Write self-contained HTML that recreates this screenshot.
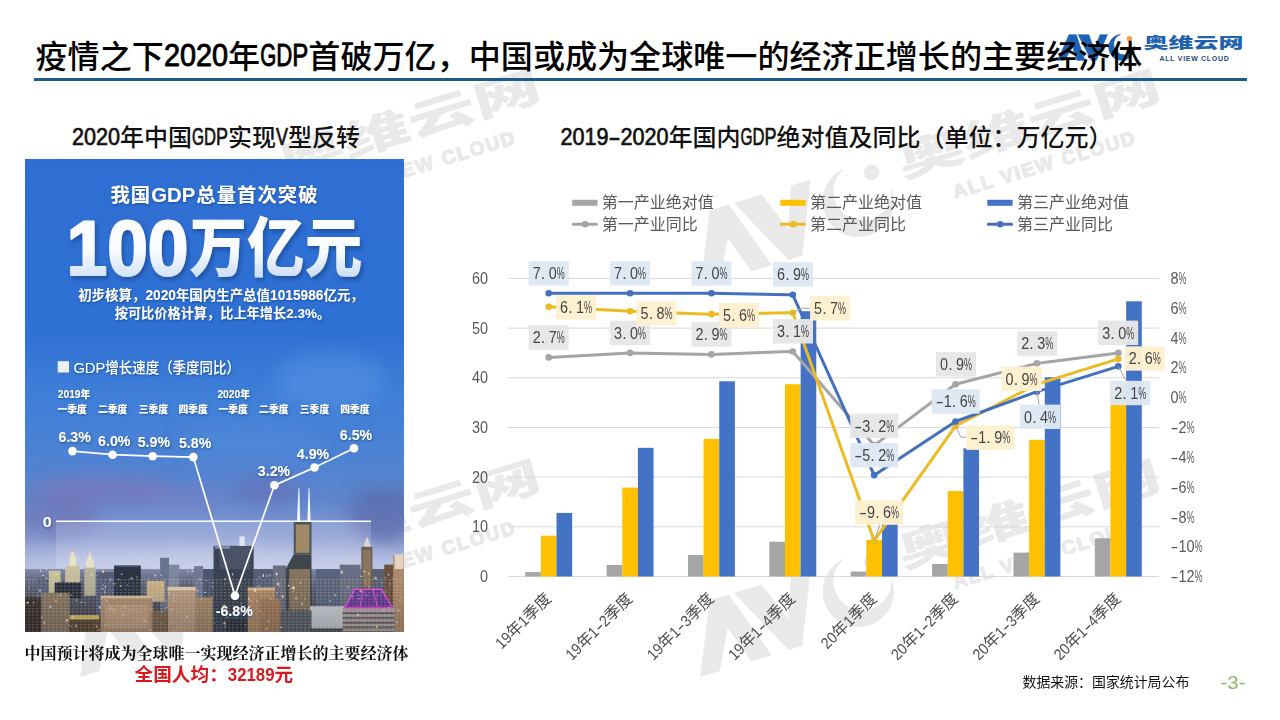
<!DOCTYPE html>
<html lang="zh-CN">
<head>
<meta charset="utf-8">
<title>疫情之下2020年GDP首破万亿</title>
<style>
html,body{margin:0;padding:0;background:#fff;}
body{width:1280px;height:720px;overflow:hidden;font-family:"Liberation Sans","Noto Sans CJK SC",sans-serif;}
svg{display:block}
svg text{font-family:"Liberation Sans","Noto Sans CJK SC",sans-serif;}
</style>
</head>
<body>
<svg width="1280" height="720" viewBox="0 0 1280 720">
<g id="watermarks" opacity="1">
<g transform="translate(0,0)"><g transform="translate(857.8,201.4) rotate(-17) scale(2.75) translate(-1121.5,-47.3)"><path d="M1057.6,60.3 L1069,34.7 L1076.3,34.7 L1084.8,60.3 L1077,60.3 L1072.4,46.2 L1065,60.3 Z M1078.2,34.7 L1088.8,34.7 L1094.3,49.5 L1100,34.7 L1107.4,34.7 L1096.4,60.3 L1091.2,60.3 Z M1120.5,34.4 A13,13 0 1 0 1134.6,46 A10.55,10.55 0 1 1 1120.5,34.4 Z" fill="#e9e9e9"/><circle cx="1129.4" cy="38.7" r="2.8" fill="#e9e9e9"/></g><g transform="translate(955,198.75) rotate(-17) scale(2.735) translate(-1159.6,-60.8)"><g fill="#e9e9e9">
<text x="1143.4" y="48.1" font-size="15.2" font-weight="900" textLength="100" lengthAdjust="spacingAndGlyphs">奥维云网</text>
</g><text x="1159.6" y="60.8" font-family="Liberation Sans" font-weight="bold" font-size="7" textLength="69.2" fill="#e9e9e9" stroke="#e9e9e9" stroke-width="0.45" style="white-space:pre">ALL VIEW CLOUD</text></g></g>
<g transform="translate(0,390)"><g transform="translate(857.8,201.4) rotate(-17) scale(2.75) translate(-1121.5,-47.3)"><path d="M1057.6,60.3 L1069,34.7 L1076.3,34.7 L1084.8,60.3 L1077,60.3 L1072.4,46.2 L1065,60.3 Z M1078.2,34.7 L1088.8,34.7 L1094.3,49.5 L1100,34.7 L1107.4,34.7 L1096.4,60.3 L1091.2,60.3 Z M1120.5,34.4 A13,13 0 1 0 1134.6,46 A10.55,10.55 0 1 1 1120.5,34.4 Z" fill="#e9e9e9"/><circle cx="1129.4" cy="38.7" r="2.8" fill="#e9e9e9"/></g><g transform="translate(955,198.75) rotate(-17) scale(2.735) translate(-1159.6,-60.8)"><g fill="#e9e9e9">
<text x="1143.4" y="48.1" font-size="15.2" font-weight="900" textLength="100" lengthAdjust="spacingAndGlyphs">奥维云网</text>
</g><text x="1159.6" y="60.8" font-family="Liberation Sans" font-weight="bold" font-size="7" textLength="69.2" fill="#e9e9e9" stroke="#e9e9e9" stroke-width="0.45" style="white-space:pre">ALL VIEW CLOUD</text></g></g>
<g transform="translate(-620,0)"><g transform="translate(857.8,201.4) rotate(-17) scale(2.75) translate(-1121.5,-47.3)"><path d="M1057.6,60.3 L1069,34.7 L1076.3,34.7 L1084.8,60.3 L1077,60.3 L1072.4,46.2 L1065,60.3 Z M1078.2,34.7 L1088.8,34.7 L1094.3,49.5 L1100,34.7 L1107.4,34.7 L1096.4,60.3 L1091.2,60.3 Z M1120.5,34.4 A13,13 0 1 0 1134.6,46 A10.55,10.55 0 1 1 1120.5,34.4 Z" fill="#e9e9e9"/><circle cx="1129.4" cy="38.7" r="2.8" fill="#e9e9e9"/></g><g transform="translate(955,198.75) rotate(-17) scale(2.735) translate(-1159.6,-60.8)"><g fill="#e9e9e9">
<text x="1143.4" y="48.1" font-size="15.2" font-weight="900" textLength="100" lengthAdjust="spacingAndGlyphs">奥维云网</text>
</g><text x="1159.6" y="60.8" font-family="Liberation Sans" font-weight="bold" font-size="7" textLength="69.2" fill="#e9e9e9" stroke="#e9e9e9" stroke-width="0.45" style="white-space:pre">ALL VIEW CLOUD</text></g></g>
<g transform="translate(-620,390)"><g transform="translate(857.8,201.4) rotate(-17) scale(2.75) translate(-1121.5,-47.3)"><path d="M1057.6,60.3 L1069,34.7 L1076.3,34.7 L1084.8,60.3 L1077,60.3 L1072.4,46.2 L1065,60.3 Z M1078.2,34.7 L1088.8,34.7 L1094.3,49.5 L1100,34.7 L1107.4,34.7 L1096.4,60.3 L1091.2,60.3 Z M1120.5,34.4 A13,13 0 1 0 1134.6,46 A10.55,10.55 0 1 1 1120.5,34.4 Z" fill="#e9e9e9"/><circle cx="1129.4" cy="38.7" r="2.8" fill="#e9e9e9"/></g><g transform="translate(955,198.75) rotate(-17) scale(2.735) translate(-1159.6,-60.8)"><g fill="#e9e9e9">
<text x="1143.4" y="48.1" font-size="15.2" font-weight="900" textLength="100" lengthAdjust="spacingAndGlyphs">奥维云网</text>
</g><text x="1159.6" y="60.8" font-family="Liberation Sans" font-weight="bold" font-size="7" textLength="69.2" fill="#e9e9e9" stroke="#e9e9e9" stroke-width="0.45" style="white-space:pre">ALL VIEW CLOUD</text></g></g>
</g>
<g id="logo"><path d="M1057.6,60.3 L1069,34.7 L1076.3,34.7 L1084.8,60.3 L1077,60.3 L1072.4,46.2 L1065,60.3 Z M1078.2,34.7 L1088.8,34.7 L1094.3,49.5 L1100,34.7 L1107.4,34.7 L1096.4,60.3 L1091.2,60.3 Z M1120.5,34.4 A13,13 0 1 0 1134.6,46 A10.55,10.55 0 1 1 1120.5,34.4 Z" fill="#1c62b4" stroke="#1c62b4" stroke-width="0.6" stroke-linejoin="miter"/><circle cx="1129.4" cy="38.7" r="2.8" fill="#f4a24a"/><g fill="#1f62ae">
<text x="1143.4" y="48.1" font-size="15.2" font-weight="900" textLength="100" lengthAdjust="spacingAndGlyphs">奥维云网</text>
</g><text x="1159.6" y="60.8" font-family="Liberation Sans" font-weight="bold" font-size="7" textLength="69.2" fill="#2a4a78" style="white-space:pre">ALL VIEW CLOUD</text></g>
<g fill="#000">
<text font-size="32.1" font-weight="500"><tspan x="35.5" y="67.6">疫情之下</tspan><tspan x="228.1" y="67.6">年</tspan><tspan x="308.35" y="67.6">首破万亿，中国或成为全球唯一的经济正增长的主要经济体</tspan></text>
<text font-family="Liberation Sans" font-weight="normal" font-size="32.1" stroke="#000" stroke-width="0.9" stroke-linejoin="round"><tspan x="163.9" y="66.48" textLength="64.2" lengthAdjust="spacingAndGlyphs">2020</tspan></text>
<text font-family="Liberation Sans" font-weight="normal" font-size="32.1" stroke="#000" stroke-width="0.9" stroke-linejoin="round"><tspan x="260.2" y="66.48" textLength="16.05" lengthAdjust="spacingAndGlyphs">G</tspan><tspan x="276.25" y="66.48" textLength="16.05" lengthAdjust="spacingAndGlyphs">D</tspan><tspan x="292.3" y="66.48" textLength="16.05" lengthAdjust="spacingAndGlyphs">P</tspan></text>
</g>
<rect x="34" y="78" width="1213" height="3" fill="#1d5a8e"/>
<g fill="#111">
<text font-size="24" font-weight="500"><tspan x="120" y="146.2">年中国</tspan><tspan x="228" y="146.2">实现</tspan><tspan x="288" y="146.2">型反转</tspan></text>
<text font-family="Liberation Sans" font-weight="normal" font-size="24" stroke="#111" stroke-width="0.7" stroke-linejoin="round"><tspan x="72" y="145.36" textLength="48" lengthAdjust="spacingAndGlyphs">2020</tspan></text>
<text font-family="Liberation Sans" font-weight="normal" font-size="24" stroke="#111" stroke-width="0.7" stroke-linejoin="round"><tspan x="192" y="145.36" textLength="12" lengthAdjust="spacingAndGlyphs">G</tspan><tspan x="204" y="145.36" textLength="12" lengthAdjust="spacingAndGlyphs">D</tspan><tspan x="216" y="145.36" textLength="12" lengthAdjust="spacingAndGlyphs">P</tspan></text>
<text font-family="Liberation Sans" font-weight="normal" font-size="24" stroke="#111" stroke-width="0.7" stroke-linejoin="round"><tspan x="276" y="145.36" textLength="12" lengthAdjust="spacingAndGlyphs">V</tspan></text>
</g>
<g fill="#111">
<text font-size="24" font-weight="500"><tspan x="668.5" y="146.2">年国内</tspan><tspan x="776.5" y="146.2">绝对值及同比（单位：万亿元）</tspan></text>
<text font-family="Liberation Sans" font-weight="normal" font-size="24" stroke="#111" stroke-width="0.7" stroke-linejoin="round"><tspan x="560.5" y="145.36" textLength="48" lengthAdjust="spacingAndGlyphs">2019</tspan><tspan x="608.5" y="145.36" textLength="12" lengthAdjust="spacingAndGlyphs">-</tspan><tspan x="620.5" y="145.36" textLength="48" lengthAdjust="spacingAndGlyphs">2020</tspan></text>
<text font-family="Liberation Sans" font-weight="normal" font-size="24" stroke="#111" stroke-width="0.7" stroke-linejoin="round"><tspan x="740.5" y="145.36" textLength="12" lengthAdjust="spacingAndGlyphs">G</tspan><tspan x="752.5" y="145.36" textLength="12" lengthAdjust="spacingAndGlyphs">D</tspan><tspan x="764.5" y="145.36" textLength="12" lengthAdjust="spacingAndGlyphs">P</tspan></text>
</g>
<defs>
<clipPath id="igclip"><rect x="25" y="159" width="379" height="473"/></clipPath>
<linearGradient id="sky" x1="0" y1="0" x2="0" y2="1">
<stop offset="0" stop-color="#2f6fd3"/><stop offset=".36" stop-color="#2f70d4"/><stop offset=".5" stop-color="#3f7fd8"/>
<stop offset=".62" stop-color="#4c82d4"/><stop offset=".72" stop-color="#5f86cc"/><stop offset=".80" stop-color="#8a9cd2"/>
<stop offset=".865" stop-color="#b4bee0"/><stop offset=".9" stop-color="#8f97b4"/><stop offset="1" stop-color="#3c3c48"/>
</linearGradient>
<linearGradient id="cityband" x1="0" y1="0" x2="0" y2="1">
<stop offset="0" stop-color="#7f89a8"/><stop offset=".25" stop-color="#5a6078"/><stop offset="1" stop-color="#3a3638"/>
</linearGradient>
<linearGradient id="bigtxt" x1="0" y1="0" x2="0" y2="1">
<stop offset="0" stop-color="#ffffff"/><stop offset=".55" stop-color="#f7faff"/><stop offset="1" stop-color="#bcd3f3"/>
</linearGradient>
<pattern id="win" width="4" height="3.2" patternUnits="userSpaceOnUse">
<rect x="0" y="0" width="2.4" height="1.1" fill="#ffe7b4"/>
</pattern>
<linearGradient id="dk" x1="0" y1="0" x2="0" y2="1"><stop offset="0" stop-color="#1a1c28" stop-opacity="0"/><stop offset="1" stop-color="#14141c" stop-opacity=".26"/></linearGradient>
<filter id="blur8" x="-30%" y="-30%" width="160%" height="160%"><feGaussianBlur stdDeviation="9"/></filter>
<filter id="blur3" x="-30%" y="-30%" width="160%" height="160%"><feGaussianBlur stdDeviation="3"/></filter>
<filter id="sh1" x="-10%" y="-20%" width="120%" height="150%"><feDropShadow dx="0.6" dy="1" stdDeviation="1.1" flood-color="#123a7c" flood-opacity=".7"/></filter>
<filter id="sh2" x="-10%" y="-20%" width="120%" height="150%"><feDropShadow dx="2" dy="3" stdDeviation="2.2" flood-color="#123a80" flood-opacity=".6"/></filter>
</defs>
<g id="infographic">
<rect x="25" y="159" width="379" height="473" fill="url(#sky)"/>
<g clip-path="url(#igclip)"><g filter="url(#blur8)">
<ellipse cx="100" cy="490" rx="70" ry="13" fill="#9070b0" opacity=".5"/>
<ellipse cx="55" cy="518" rx="45" ry="20" fill="#6a68aa" opacity=".45"/>
<ellipse cx="185" cy="498" rx="45" ry="9" fill="#9a78b4" opacity=".35"/>
<ellipse cx="268" cy="490" rx="34" ry="14" fill="#6f68ae" opacity=".5"/>
<ellipse cx="383" cy="515" rx="34" ry="28" fill="#5561a2" opacity=".6"/>
<ellipse cx="330" cy="380" rx="55" ry="28" fill="#5f9ae6" opacity=".45"/>
<ellipse cx="250" cy="440" rx="70" ry="20" fill="#5a90dc" opacity=".35"/>
<ellipse cx="215" cy="563" rx="200" ry="12" fill="#c8d0ea" opacity=".55"/>
</g></g>
<rect x="56" y="521" width="315" height="111" fill="#fff" opacity=".16"/>
<g id="city" clip-path="url(#igclip)"><rect x="25" y="569.07" width="380.05" height="70.96" fill="url(#cityband)"/>
<rect x="36.88" y="577.98" width="23.75" height="62.05" fill="#5a6480"/>
<rect x="96.26" y="572.04" width="17.81" height="67.99" fill="#55607c"/>
<rect x="160.1" y="557.79" width="8.91" height="82.24" fill="#6a7390"/>
<rect x="169" y="564.62" width="10.39" height="75.42" fill="#8088a0"/>
<rect x="194.24" y="566.1" width="8.91" height="73.93" fill="#707a96"/>
<rect x="203.15" y="569.07" width="11.88" height="70.96" fill="#4c5670"/>
<rect x="253.62" y="569.07" width="19.3" height="70.96" fill="#566079"/>
<rect x="272.92" y="565.51" width="13.36" height="74.52" fill="#6b6f80"/>
<rect x="315.97" y="569.07" width="23.75" height="70.96" fill="#5a6580"/>
<rect x="339.73" y="564.62" width="20.78" height="75.42" fill="#6a7088"/>
<rect x="372.39" y="569.07" width="13.36" height="70.96" fill="#5a5f72"/>
<polygon points="69.54,569.07 69.54,557.79 71.32,552.74 72.51,551.26 73.69,552.74 76.07,557.79 76.07,569.07" fill="#e9e2c6"/>
<rect x="65.08" y="566.1" width="14.85" height="32.66" fill="#c9c0a0"/>
<polygon points="85.87,569.07 85.87,560.76 88.54,556.6 89.73,550.67 90.91,556.6 93.88,560.76 93.88,569.07" fill="#e6e0cc"/>
<rect x="84.38" y="567.59" width="11.28" height="28.21" fill="#b9b49e"/>
<rect x="48.75" y="570.56" width="11.88" height="22.27" fill="#c8c49a"/>
<rect x="114.07" y="565.51" width="26.72" height="33.25" fill="#2c3444"/>
<rect x="114.07" y="565.51" width="26.72" height="1.19" fill="#55607a"/>
<rect x="146.73" y="580.95" width="17.81" height="20.78" fill="#cbb58c"/>
<rect x="54.69" y="582.43" width="26.72" height="16.33" fill="#2a3040"/>
<rect x="25" y="597.28" width="17.81" height="42.76" fill="#3a3230"/>
<rect x="41.33" y="592.83" width="28.21" height="47.21" fill="#8d7a68"/>
<rect x="69.54" y="615.1" width="31.18" height="24.94" fill="#5c4a34"/>
<rect x="69.54" y="615.1" width="29.69" height="4.45" fill="#d9c46a"/>
<rect x="100.71" y="595.8" width="51.96" height="44.24" fill="#b39378"/>
<rect x="100.71" y="595.8" width="51.96" height="2.38" fill="#e0c8a4"/>
<rect x="105.17" y="604.7" width="43.05" height="23.75" fill="#c4a283"/>
<rect x="167.52" y="588.37" width="28.21" height="51.66" fill="#bc9e84"/>
<rect x="167.52" y="586.89" width="28.21" height="3.56" fill="#e6d2b2"/>
<rect x="195.72" y="597.28" width="16.92" height="42.76" fill="#a98a6c"/>
<rect x="152.67" y="610.64" width="15.44" height="29.39" fill="#7c6650"/>
<rect x="213.54" y="545.91" width="40.08" height="94.12" fill="#3b4354"/>
<rect x="219.48" y="545.91" width="31.18" height="23.16" fill="#4a5266"/>
<rect x="215.02" y="545.91" width="14.85" height="2.97" fill="#7e88a8"/>
<rect x="239.37" y="536.41" width="5.34" height="9.5" fill="#dfe6f2"/>
<rect x="226.9" y="619.55" width="23.75" height="20.49" fill="#2e3440"/>
<rect x="247.68" y="588.37" width="27.32" height="51.66" fill="#b28a68"/>
<rect x="247.68" y="587.48" width="27.32" height="2.97" fill="#d9b78f"/>
<rect x="259.56" y="598.76" width="20.78" height="41.27" fill="#a37c5c"/>
<polygon points="296.97,521.57 298.46,488.31 299.35,488.31 300.24,521.57" fill="#f3f6fb"/>
<polygon points="307.36,521.57 308.55,488.31 309.44,488.31 310.63,521.57" fill="#f3f6fb"/>
<rect x="293.71" y="521.57" width="17.81" height="32.66" fill="#4c5558"/>
<rect x="295.78" y="524.54" width="13.66" height="28.21" fill="#a08a68"/>
<polygon points="293.71,554.23 311.52,554.23 311.52,612.13 285.69,612.13 285.69,569.07" fill="#3e474c"/>
<rect x="289.25" y="569.07" width="20.78" height="41.57" fill="#857560"/>
<rect x="310.04" y="606.19" width="34.14" height="23.75" fill="#cdd3dc"/>
<rect x="280.34" y="610.64" width="31.18" height="29.39" fill="#59606a"/>
<rect x="310.04" y="628.46" width="34.14" height="11.58" fill="#4a4e58"/>
<polygon points="363.48,546.81 366.45,537.9 367.04,536.41 367.64,537.9 370.9,546.81" fill="#d8d4d0"/>
<rect x="361.4" y="546.81" width="10.99" height="41.57" fill="#6b5c52"/>
<rect x="362.89" y="549.77" width="8.02" height="37.11" fill="#8a7660"/>
<rect x="384.26" y="564.62" width="10.39" height="75.42" fill="#6a5240"/>
<rect x="393.17" y="555.71" width="11.88" height="84.32" fill="#b08c6c"/>
<rect x="394.66" y="554.23" width="8.91" height="14.85" fill="#e0d4c0"/>
<rect x="342.7" y="607.67" width="51.96" height="32.36" fill="#b4acac"/>
<rect x="342.7" y="612.13" width="51.96" height="2.08" fill="#6c6468"/>
<rect x="342.7" y="616.88" width="51.96" height="2.08" fill="#6c6468"/>
<rect x="342.7" y="621.63" width="51.96" height="2.08" fill="#6c6468"/>
<rect x="342.7" y="626.38" width="51.96" height="2.08" fill="#6c6468"/>
<rect x="342.7" y="631.13" width="51.96" height="2.08" fill="#6c6468"/>
<rect x="342.7" y="635.88" width="51.96" height="2.08" fill="#6c6468"/>
<polygon points="354.57,589.26 381.29,589.26 392.58,607.67 345.07,607.67" fill="#6a3c9c"/>
<polygon points="354.57,589.26 381.29,589.26 392.58,607.67 345.07,607.67" fill="none" stroke="#e24be0" stroke-width="1.6"/>
<line x1="363.48" y1="589.26" x2="359.92" y2="607.67" stroke="#e24be0" stroke-width="1.2"/>
<line x1="372.98" y1="589.26" x2="377.73" y2="607.67" stroke="#e24be0" stroke-width="1.2"/>
<rect x="25" y="577.98" width="379" height="54.02" fill="url(#win)" opacity=".30"/>
<rect x="147.76" y="578.26" width="1" height="1" fill="#fbe9c8" opacity="0.5"/>
<rect x="245.13" y="624.5" width="1.2" height="1" fill="#fff3c4" opacity="0.67"/>
<rect x="52.27" y="574.6" width="2.2" height="1" fill="#fbe9c8" opacity="0.51"/>
<rect x="109.94" y="607.3" width="1" height="2.6" fill="#fff3c4" opacity="0.94"/>
<rect x="43.52" y="621.38" width="1.6" height="2.6" fill="#ffe39a" opacity="0.72"/>
<rect x="240.66" y="603.21" width="1.2" height="1" fill="#fbe9c8" opacity="0.74"/>
<rect x="96.64" y="575.01" width="1" height="1" fill="#fbe9c8" opacity="0.55"/>
<rect x="281.83" y="595.13" width="1.6" height="2.6" fill="#fbe9c8" opacity="0.91"/>
<rect x="161.95" y="584.21" width="1.2" height="1.2" fill="#fff3c4" opacity="0.74"/>
<rect x="223.47" y="622.39" width="2.2" height="1.8" fill="#fbe9c8" opacity="0.94"/>
<rect x="70.39" y="594.55" width="1.6" height="1.2" fill="#ffd27a" opacity="0.66"/>
<rect x="387.72" y="573.8" width="1.6" height="1.8" fill="#dfe9ff" opacity="0.63"/>
<rect x="212.75" y="617.63" width="1" height="1" fill="#ffffff" opacity="0.69"/>
<rect x="275.72" y="572.77" width="1.6" height="2.6" fill="#ffffff" opacity="0.81"/>
<rect x="359.53" y="590.22" width="2.2" height="1.8" fill="#ffe39a" opacity="0.76"/>
<rect x="211.63" y="582.37" width="1.6" height="1.2" fill="#dfe9ff" opacity="0.57"/>
<rect x="173" y="622.17" width="1" height="1.2" fill="#ffd27a" opacity="0.65"/>
<rect x="130.47" y="577.42" width="2.2" height="1.8" fill="#dfe9ff" opacity="0.66"/>
<rect x="160.9" y="622.94" width="1.2" height="1.2" fill="#fff3c4" opacity="0.54"/>
<rect x="113.22" y="583.29" width="2.2" height="1.2" fill="#ffffff" opacity="0.59"/>
<rect x="80.77" y="601.64" width="1.6" height="1.2" fill="#dfe9ff" opacity="0.88"/>
<rect x="383.28" y="608.98" width="1" height="2.6" fill="#dfe9ff" opacity="0.85"/>
<rect x="173.53" y="593.38" width="1" height="2.6" fill="#dfe9ff" opacity="0.65"/>
<rect x="97.67" y="629.07" width="2.2" height="1.2" fill="#fff3c4" opacity="0.62"/>
<rect x="45.77" y="569.09" width="1.2" height="1" fill="#ffffff" opacity="0.76"/>
<rect x="52.44" y="581.74" width="2.2" height="1.2" fill="#dfe9ff" opacity="0.58"/>
<rect x="156.62" y="591.26" width="1" height="1" fill="#ffd27a" opacity="0.95"/>
<rect x="201.21" y="598.55" width="1" height="1.2" fill="#fff3c4" opacity="0.82"/>
<rect x="304.37" y="598.23" width="1.2" height="1" fill="#ffe39a" opacity="0.93"/>
<rect x="224.62" y="578.01" width="1" height="1.8" fill="#dfe9ff" opacity="0.88"/>
<rect x="287.77" y="584.98" width="1.6" height="1.2" fill="#ffffff" opacity="0.84"/>
<rect x="226.25" y="616.54" width="1.6" height="1.2" fill="#fbe9c8" opacity="0.86"/>
<rect x="396.33" y="621.02" width="1.2" height="2.6" fill="#dfe9ff" opacity="0.85"/>
<rect x="101.17" y="599.1" width="1" height="1" fill="#ffffff" opacity="0.69"/>
<rect x="98.81" y="605.94" width="1.6" height="2.6" fill="#dfe9ff" opacity="0.94"/>
<rect x="385.08" y="591.29" width="1.2" height="1" fill="#ffe39a" opacity="0.69"/>
<rect x="152.99" y="598.48" width="1" height="2.6" fill="#dfe9ff" opacity="0.62"/>
<rect x="267.82" y="619.93" width="1" height="2.6" fill="#dfe9ff" opacity="0.83"/>
<rect x="205.74" y="579.95" width="1.6" height="1" fill="#dfe9ff" opacity="0.65"/>
<rect x="176.92" y="626.76" width="1.2" height="1.2" fill="#ffe39a" opacity="0.46"/>
<rect x="248.15" y="597.43" width="1.2" height="2.6" fill="#dfe9ff" opacity="0.92"/>
<rect x="84.62" y="602.48" width="1" height="1" fill="#dfe9ff" opacity="0.77"/>
<rect x="223.99" y="625.96" width="2.2" height="1.2" fill="#ffe39a" opacity="0.46"/>
<rect x="106.01" y="599.61" width="1.6" height="1.8" fill="#fbe9c8" opacity="0.66"/>
<rect x="75.28" y="624.52" width="1.6" height="2.6" fill="#dfe9ff" opacity="0.74"/>
<rect x="366.02" y="594.7" width="1.2" height="1.2" fill="#fbe9c8" opacity="0.71"/>
<rect x="354.17" y="616.38" width="1" height="1.2" fill="#ffe39a" opacity="0.52"/>
<rect x="258.78" y="576.41" width="1" height="1.8" fill="#dfe9ff" opacity="0.71"/>
<rect x="234.85" y="616.86" width="1" height="1" fill="#ffe39a" opacity="0.55"/>
<rect x="41.87" y="575.03" width="2.2" height="1" fill="#fff3c4" opacity="0.67"/>
<rect x="256.31" y="599.88" width="1.2" height="1.8" fill="#ffd27a" opacity="0.7"/>
<rect x="329.57" y="600.01" width="1.2" height="1.8" fill="#fbe9c8" opacity="0.9"/>
<rect x="102.17" y="596.34" width="2.2" height="1" fill="#ffd27a" opacity="0.67"/>
<rect x="53.28" y="583.73" width="1" height="1.2" fill="#dfe9ff" opacity="0.6"/>
<rect x="72" y="616.41" width="1.6" height="1.2" fill="#ffffff" opacity="0.89"/>
<rect x="389.8" y="582.45" width="1" height="2.6" fill="#ffd27a" opacity="0.53"/>
<rect x="277.11" y="582.7" width="2.2" height="2.6" fill="#ffffff" opacity="0.66"/>
<rect x="160.09" y="574.69" width="1.6" height="1" fill="#ffffff" opacity="0.73"/>
<rect x="191.61" y="570.18" width="1.6" height="1.8" fill="#fbe9c8" opacity="0.93"/>
<rect x="68.43" y="625.04" width="1.2" height="1" fill="#fff3c4" opacity="0.58"/>
<rect x="40.89" y="616.54" width="1.6" height="1.2" fill="#ffd27a" opacity="0.87"/>
<rect x="280.17" y="626.71" width="2.2" height="1.2" fill="#fbe9c8" opacity="0.91"/>
<rect x="240.54" y="611.75" width="1" height="1.8" fill="#fff3c4" opacity="0.85"/>
<rect x="94.94" y="623.62" width="1.6" height="1" fill="#dfe9ff" opacity="0.49"/>
<rect x="123.97" y="606.13" width="1.2" height="1" fill="#ffffff" opacity="0.88"/>
<rect x="196.62" y="589.74" width="2.2" height="1.8" fill="#fbe9c8" opacity="0.51"/>
<rect x="224.12" y="583.6" width="1" height="1.2" fill="#ffffff" opacity="0.48"/>
<rect x="101.86" y="588.08" width="1.6" height="1.2" fill="#ffffff" opacity="0.67"/>
<rect x="278.73" y="585.56" width="1" height="1.8" fill="#fff3c4" opacity="0.46"/>
<rect x="301.64" y="602.65" width="1.2" height="2.6" fill="#ffe39a" opacity="0.92"/>
<rect x="65.96" y="618.97" width="2.2" height="2.6" fill="#fbe9c8" opacity="0.87"/>
<rect x="173.8" y="599.94" width="1.2" height="1.2" fill="#ffffff" opacity="0.55"/>
<rect x="357.6" y="613.48" width="1.2" height="2.6" fill="#ffffff" opacity="0.94"/>
<rect x="340.71" y="569.94" width="1.6" height="2.6" fill="#ffe39a" opacity="0.48"/>
<rect x="276.13" y="592.28" width="1.6" height="1.2" fill="#dfe9ff" opacity="0.6"/>
<rect x="198.75" y="578.67" width="2.2" height="1" fill="#ffffff" opacity="0.63"/>
<rect x="149.68" y="629.08" width="1.6" height="1.2" fill="#fff3c4" opacity="0.93"/>
<rect x="142.39" y="590.8" width="1" height="1.8" fill="#ffd27a" opacity="0.49"/>
<rect x="130.88" y="609.04" width="1.2" height="1" fill="#fff3c4" opacity="0.58"/>
<rect x="59.75" y="593.41" width="1" height="2.6" fill="#fff3c4" opacity="0.6"/>
<rect x="262.76" y="574.22" width="1.2" height="2.6" fill="#ffffff" opacity="0.81"/>
<rect x="211.82" y="586.39" width="1.2" height="1" fill="#dfe9ff" opacity="0.9"/>
<rect x="261.88" y="613.78" width="1.2" height="1" fill="#dfe9ff" opacity="0.74"/>
<rect x="361.7" y="610.68" width="1.2" height="1" fill="#fff3c4" opacity="0.47"/>
<rect x="265.56" y="627.53" width="2.2" height="2.6" fill="#fbe9c8" opacity="0.48"/>
<rect x="33.08" y="601.45" width="1.2" height="2.6" fill="#ffffff" opacity="0.45"/>
<rect x="325.93" y="614.66" width="1" height="1" fill="#dfe9ff" opacity="0.82"/>
<rect x="120.82" y="573.61" width="1.6" height="1.2" fill="#dfe9ff" opacity="0.83"/>
<rect x="112.76" y="608.67" width="2.2" height="2.6" fill="#ffd27a" opacity="0.49"/>
<rect x="368.34" y="586.58" width="1" height="1.2" fill="#fff3c4" opacity="0.75"/>
<rect x="150.75" y="608.77" width="1.6" height="1.2" fill="#fff3c4" opacity="0.69"/>
<rect x="208.66" y="628.33" width="1" height="1.2" fill="#dfe9ff" opacity="0.69"/>
<rect x="292.54" y="586.47" width="2.2" height="2.6" fill="#fff3c4" opacity="0.95"/>
<rect x="232.45" y="588.06" width="1" height="2.6" fill="#fff3c4" opacity="0.59"/>
<rect x="54.75" y="599.94" width="2.2" height="1.8" fill="#ffd27a" opacity="0.55"/>
<rect x="381.54" y="581.91" width="1" height="1.2" fill="#dfe9ff" opacity="0.71"/>
<rect x="384.23" y="577.15" width="1.6" height="1" fill="#dfe9ff" opacity="0.63"/>
<rect x="213.21" y="622.45" width="2.2" height="1" fill="#ffe39a" opacity="0.45"/>
<rect x="210.88" y="596.54" width="1.6" height="1.2" fill="#ffd27a" opacity="0.62"/>
<rect x="144.85" y="620.27" width="1" height="1.8" fill="#ffffff" opacity="0.87"/>
<rect x="71.14" y="625.52" width="1" height="1.8" fill="#ffffff" opacity="0.64"/>
<rect x="173.73" y="629.93" width="1" height="1.8" fill="#ffd27a" opacity="0.83"/>
<rect x="347.2" y="586.17" width="1" height="1.8" fill="#dfe9ff" opacity="0.92"/>
<rect x="119.75" y="585.26" width="1.6" height="1.2" fill="#ffffff" opacity="0.84"/>
<rect x="186.83" y="570.84" width="2.2" height="1.2" fill="#dfe9ff" opacity="0.49"/>
<rect x="376.98" y="594.11" width="1.2" height="1.8" fill="#ffd27a" opacity="0.47"/>
<rect x="374.47" y="576.83" width="2.2" height="2.6" fill="#ffffff" opacity="0.59"/>
<rect x="122.16" y="614.08" width="1.6" height="2.6" fill="#dfe9ff" opacity="0.57"/>
<rect x="207.68" y="609.83" width="1" height="1.2" fill="#dfe9ff" opacity="0.53"/>
<rect x="104.16" y="624.27" width="2.2" height="1.2" fill="#ffd27a" opacity="0.9"/>
<rect x="400.67" y="596.49" width="1.2" height="1.2" fill="#ffe39a" opacity="0.5"/>
<rect x="154.58" y="574.62" width="1.2" height="1.8" fill="#ffffff" opacity="0.85"/>
<rect x="102.01" y="570.3" width="2.2" height="2.6" fill="#ffd27a" opacity="0.82"/>
<rect x="104.96" y="585.54" width="1" height="2.6" fill="#ffffff" opacity="0.74"/>
<rect x="161.41" y="610.92" width="1.2" height="1" fill="#ffffff" opacity="0.9"/>
<rect x="170.59" y="608.42" width="2.2" height="1.8" fill="#fff3c4" opacity="0.51"/>
<rect x="185.88" y="615.6" width="2.2" height="2.6" fill="#fff3c4" opacity="0.49"/>
<rect x="375.77" y="625.62" width="2.2" height="2.6" fill="#ffe39a" opacity="0.84"/>
<rect x="110.15" y="578.34" width="1" height="2.6" fill="#fff3c4" opacity="0.73"/>
<rect x="40.87" y="616.74" width="1.2" height="1" fill="#dfe9ff" opacity="0.81"/>
<rect x="387.88" y="607.24" width="2.2" height="1" fill="#fff3c4" opacity="0.49"/>
<rect x="223.19" y="604.59" width="2.2" height="1.8" fill="#ffe39a" opacity="0.85"/>
<rect x="26.43" y="601.82" width="2.2" height="1.8" fill="#ffffff" opacity="0.77"/>
<rect x="358.3" y="598.03" width="1.2" height="1.2" fill="#fff3c4" opacity="0.93"/>
<rect x="290.95" y="587.8" width="1" height="1.2" fill="#ffd27a" opacity="0.89"/>
<rect x="269.34" y="574.01" width="1.2" height="2.6" fill="#ffffff" opacity="0.56"/>
<rect x="38.82" y="589.67" width="2.2" height="1.8" fill="#dfe9ff" opacity="0.65"/>
<rect x="28.54" y="586.87" width="1" height="1.2" fill="#ffd27a" opacity="0.93"/>
<rect x="143.21" y="619.03" width="1.2" height="2.6" fill="#ffe39a" opacity="0.58"/>
<rect x="360.39" y="575.72" width="2.2" height="1.2" fill="#ffe39a" opacity="0.69"/>
<rect x="368.31" y="572.51" width="1.2" height="2.6" fill="#fff3c4" opacity="0.56"/>
<rect x="392.27" y="577.72" width="1" height="1" fill="#ffe39a" opacity="0.65"/>
<rect x="363.71" y="622.91" width="1" height="1" fill="#ffe39a" opacity="0.61"/>
<rect x="95.75" y="626.09" width="2.2" height="1" fill="#ffffff" opacity="0.78"/>
<rect x="168.36" y="591.85" width="1.6" height="2.6" fill="#ffe39a" opacity="0.5"/>
<rect x="55.42" y="573.99" width="2.2" height="1" fill="#fbe9c8" opacity="0.93"/>
<rect x="103.98" y="590.8" width="1.6" height="2.6" fill="#fff3c4" opacity="0.47"/>
<rect x="204.02" y="591.78" width="2.2" height="1.2" fill="#ffffff" opacity="0.63"/>
<rect x="363.27" y="570.92" width="2.2" height="1.2" fill="#dfe9ff" opacity="0.83"/>
<rect x="41.28" y="571.2" width="1" height="1" fill="#ffffff" opacity="0.55"/>
<rect x="49.63" y="605.97" width="1.6" height="1.8" fill="#ffffff" opacity="0.93"/>
<rect x="257.98" y="585.05" width="1.6" height="1.8" fill="#ffffff" opacity="0.45"/>
<rect x="310.13" y="624.91" width="1" height="1" fill="#ffe39a" opacity="0.5"/>
<rect x="295.05" y="597.45" width="2.2" height="1.8" fill="#ffd27a" opacity="0.86"/>
<rect x="75.9" y="599.33" width="1" height="1.8" fill="#dfe9ff" opacity="0.84"/>
<rect x="254.33" y="589.05" width="1.6" height="2.6" fill="#ffffff" opacity="0.84"/>
<rect x="249.99" y="600.26" width="2.2" height="1.2" fill="#ffe39a" opacity="0.65"/>
<rect x="270.23" y="598.42" width="1.6" height="1.2" fill="#ffd27a" opacity="0.89"/>
<rect x="397.42" y="585.21" width="1" height="1.2" fill="#fff3c4" opacity="0.66"/>
<rect x="397.65" y="628.3" width="1.2" height="1.2" fill="#ffe39a" opacity="0.66"/>
<rect x="259.24" y="610.14" width="1" height="1.8" fill="#ffffff" opacity="0.59"/>
<rect x="126.64" y="584.55" width="1.6" height="1.2" fill="#ffd27a" opacity="0.57"/>
<rect x="118.25" y="578.41" width="1.2" height="1.8" fill="#fff3c4" opacity="0.65"/>
<rect x="399.16" y="599.98" width="1.2" height="1" fill="#dfe9ff" opacity="0.68"/>
<rect x="39.92" y="569.35" width="1.2" height="2.6" fill="#ffffff" opacity="0.47"/>
<rect x="136.42" y="576.34" width="1.2" height="1.2" fill="#fff3c4" opacity="0.64"/>
<rect x="351.66" y="596.44" width="1.6" height="1" fill="#fff3c4" opacity="0.77"/>
<rect x="292.85" y="590.38" width="1" height="1.8" fill="#ffffff" opacity="0.52"/>
<rect x="102.7" y="584.6" width="1.2" height="1" fill="#ffffff" opacity="0.65"/>
<rect x="165.8" y="606.91" width="1" height="1.2" fill="#fff3c4" opacity="0.85"/>
<rect x="232.06" y="572.93" width="1" height="2.6" fill="#dfe9ff" opacity="0.73"/>
<rect x="266.33" y="574.63" width="1.2" height="2.6" fill="#dfe9ff" opacity="0.59"/>
<rect x="397.58" y="609.76" width="2.2" height="1" fill="#ffffff" opacity="0.82"/>
<rect x="358.27" y="594.3" width="1" height="1.8" fill="#dfe9ff" opacity="0.55"/>
<rect x="299.74" y="581.48" width="1" height="2.6" fill="#ffe39a" opacity="0.66"/>
<rect x="334.46" y="593.82" width="1.6" height="2.6" fill="#ffe39a" opacity="0.51"/>
<rect x="45.44" y="577.76" width="2.2" height="1" fill="#fbe9c8" opacity="0.76"/>
<rect x="165.44" y="599.81" width="1.2" height="1.8" fill="#ffffff" opacity="0.53"/>
<rect x="90.59" y="573.16" width="2.2" height="2.6" fill="#ffe39a" opacity="0.6"/>
<rect x="340.82" y="571.72" width="2.2" height="1.8" fill="#fff3c4" opacity="0.75"/>
<rect x="25" y="569.07" width="379" height="62.93" fill="url(#dk)"/></g>
<line x1="56" y1="521.2" x2="371" y2="521.2" stroke="#fff" stroke-width="1.6"/>
<text x="47.3" y="527.4" font-family="Liberation Sans" font-weight="bold" font-size="15" text-anchor="middle" fill="#fff" filter="url(#sh1)" textLength="9" lengthAdjust="spacingAndGlyphs">0</text>
<g fill="#fff" filter="url(#sh1)">
<text x="110.39" y="202.3" font-size="19.3" font-weight="bold" letter-spacing="1.1">我国</text>
<text x="196.31" y="202.3" font-size="19.3" font-weight="bold" letter-spacing="1.1">总量首次突破</text>
<text x="151.19" y="202.3" font-family="Liberation Sans" font-weight="bold" font-size="19.3" textLength="44.02" lengthAdjust="spacingAndGlyphs">GDP</text>
</g>
<g filter="url(#sh2)" fill="url(#bigtxt)">
<text x="66.5" y="274.8" font-family="Liberation Sans" font-weight="bold" font-size="78.5" textLength="122" lengthAdjust="spacingAndGlyphs" stroke="url(#bigtxt)" stroke-width="2.2" stroke-linejoin="round">100</text>
<g fill="url(#bigtxt)">
<text x="189.5" y="270.9" font-size="64.5" font-weight="900" textLength="172.8" lengthAdjust="spacingAndGlyphs">万亿元</text>
</g>
</g>
<g fill="#fff" filter="url(#sh1)">
<text font-size="13.45" font-weight="bold"><tspan x="78.16" y="300.3">初步核算，</tspan><tspan x="175.93" y="300.3">年国内生产总值</tspan><tspan x="323.49" y="300.3">亿元，</tspan></text>
<text x="145.41" y="300.3" font-family="Liberation Sans" font-weight="bold" font-size="13.72" textLength="30.52" lengthAdjust="spacingAndGlyphs">2020</text>
<text x="270.08" y="300.3" font-family="Liberation Sans" font-weight="bold" font-size="13.72" textLength="53.41" lengthAdjust="spacingAndGlyphs">1015986</text>
</g>
<g fill="#fff" filter="url(#sh1)">
<text font-size="13.2" font-weight="bold"><tspan x="114.76" y="318.3">按可比价格计算，比上年增长</tspan><tspan x="317.05" y="318.3">。</tspan></text>
<text x="286.36" y="318.3" font-family="Liberation Sans" font-weight="bold" font-size="13.46" textLength="30.69" lengthAdjust="spacingAndGlyphs">2.3%</text>
</g>
<rect x="57.7" y="361.2" width="11.3" height="11.3" fill="#eef2f8"/>
<g fill="#fff" filter="url(#sh1)">
<text x="105.34" y="372.6" font-size="15.2" font-weight="500" textLength="134.5" lengthAdjust="spacingAndGlyphs">增长速度（季度同比）</text>
<text x="73.4" y="372.6" font-family="Liberation Sans" font-weight="normal" font-size="14.74" textLength="31.95" lengthAdjust="spacingAndGlyphs">GDP</text>
</g>
<g fill="#fff" filter="url(#sh1)">
<text x="80.59" y="398.2" font-size="9.8" font-weight="900">年</text>
<text x="57.7" y="398.2" font-family="Liberation Sans" font-weight="bold" font-size="10.29" textLength="22.89" lengthAdjust="spacingAndGlyphs">2019</text>
</g>
<g fill="#fff" filter="url(#sh1)">
<text x="240.29" y="398.2" font-size="9.8" font-weight="900">年</text>
<text x="217.4" y="398.2" font-family="Liberation Sans" font-weight="bold" font-size="10.29" textLength="22.89" lengthAdjust="spacingAndGlyphs">2020</text>
</g>
<g fill="#fff" filter="url(#sh1)">
<text x="57.4" y="413.2" font-size="9.8" font-weight="900">一季度</text>
</g>
<g fill="#fff" filter="url(#sh1)">
<text x="97.9" y="413.2" font-size="9.8" font-weight="900">二季度</text>
</g>
<g fill="#fff" filter="url(#sh1)">
<text x="138.7" y="413.2" font-size="9.8" font-weight="900">三季度</text>
</g>
<g fill="#fff" filter="url(#sh1)">
<text x="178.5" y="413.2" font-size="9.8" font-weight="900">四季度</text>
</g>
<g fill="#fff" filter="url(#sh1)">
<text x="218.5" y="413.2" font-size="9.8" font-weight="900">一季度</text>
</g>
<g fill="#fff" filter="url(#sh1)">
<text x="259.1" y="413.2" font-size="9.8" font-weight="900">二季度</text>
</g>
<g fill="#fff" filter="url(#sh1)">
<text x="299.8" y="413.2" font-size="9.8" font-weight="900">三季度</text>
</g>
<g fill="#fff" filter="url(#sh1)">
<text x="340.2" y="413.2" font-size="9.8" font-weight="900">四季度</text>
</g>
<polyline points="72.5,451.1 112.6,454.7 152.7,456.2 193.3,457.1 235,595.8 274.4,485.3 314.5,467.5 354,448.2" fill="none" stroke="#fff" stroke-width="1.7" stroke-linejoin="round"/>
<circle cx="72.5" cy="451.1" r="4.3" fill="#fff"/>
<circle cx="112.6" cy="454.7" r="4.3" fill="#fff"/>
<circle cx="152.7" cy="456.2" r="4.3" fill="#fff"/>
<circle cx="193.3" cy="457.1" r="4.3" fill="#fff"/>
<circle cx="235" cy="595.8" r="4.3" fill="#fff"/>
<circle cx="274.4" cy="485.3" r="4.3" fill="#fff"/>
<circle cx="314.5" cy="467.5" r="4.3" fill="#fff"/>
<circle cx="354" cy="448.2" r="4.3" fill="#fff"/>
<text x="74.7" y="442.2" font-family="Liberation Sans" font-weight="bold" font-size="14.2" text-anchor="middle" fill="#fff" textLength="32.37" lengthAdjust="spacingAndGlyphs" filter="url(#sh1)">6.3%</text>
<text x="114.3" y="446.4" font-family="Liberation Sans" font-weight="bold" font-size="14.2" text-anchor="middle" fill="#fff" textLength="32.37" lengthAdjust="spacingAndGlyphs" filter="url(#sh1)">6.0%</text>
<text x="153.9" y="447" font-family="Liberation Sans" font-weight="bold" font-size="14.2" text-anchor="middle" fill="#fff" textLength="32.37" lengthAdjust="spacingAndGlyphs" filter="url(#sh1)">5.9%</text>
<text x="195.1" y="447.9" font-family="Liberation Sans" font-weight="bold" font-size="14.2" text-anchor="middle" fill="#fff" textLength="32.37" lengthAdjust="spacingAndGlyphs" filter="url(#sh1)">5.8%</text>
<text x="274" y="476.4" font-family="Liberation Sans" font-weight="bold" font-size="14.2" text-anchor="middle" fill="#fff" textLength="32.37" lengthAdjust="spacingAndGlyphs" filter="url(#sh1)">3.2%</text>
<text x="313" y="458.6" font-family="Liberation Sans" font-weight="bold" font-size="14.2" text-anchor="middle" fill="#fff" textLength="32.37" lengthAdjust="spacingAndGlyphs" filter="url(#sh1)">4.9%</text>
<text x="356" y="439.9" font-family="Liberation Sans" font-weight="bold" font-size="14.2" text-anchor="middle" fill="#fff" textLength="32.37" lengthAdjust="spacingAndGlyphs" filter="url(#sh1)">6.5%</text>
<text x="234.3" y="616" font-family="Liberation Sans" font-weight="bold" font-size="14.2" text-anchor="middle" fill="#fff" textLength="37.09" lengthAdjust="spacingAndGlyphs" filter="url(#sh1)">-6.8%</text>
</g>
<g fill="#111">
<text x="24.5" y="659.3" font-size="16" font-weight="bold" textLength="384" style="font-family:'Liberation Serif','Noto Serif CJK SC',serif">中国预计将成为全球唯一实现经济正增长的主要经济体</text>
</g>
<g fill="#d8191f">
<text font-size="18.67" font-weight="bold"><tspan x="134.5" y="681.3">全国人均：</tspan><tspan x="274.53" y="681.3">元</tspan></text>
<text font-family="Liberation Sans" font-weight="bold" font-size="18.67"><tspan x="227.85" y="680.65" textLength="46.68" lengthAdjust="spacingAndGlyphs">32189</tspan></text>
</g>
<g id="chart">
<rect x="572.2" y="199.8" width="25.3" height="6" fill="#a5a5a5"/>
<g fill="#595959">
<text x="601.8" y="208.4" font-size="16">第一产业绝对值</text>
</g>
<line x1="573.2" y1="224.2" x2="596.5" y2="224.2" stroke="#a5a5a5" stroke-width="3" stroke-linecap="round"/>
<circle cx="585.1" cy="224.2" r="3.3" fill="#a5a5a5"/>
<g fill="#595959">
<text x="601.8" y="230.2" font-size="16">第一产业同比</text>
</g>
<rect x="780.3" y="199.8" width="25.3" height="6" fill="#ffc000"/>
<g fill="#595959">
<text x="809.9" y="208.4" font-size="16">第二产业绝对值</text>
</g>
<line x1="781.3" y1="224.2" x2="804.6" y2="224.2" stroke="#ecbb22" stroke-width="3" stroke-linecap="round"/>
<circle cx="793.2" cy="224.2" r="3.3" fill="#ecbb22"/>
<g fill="#595959">
<text x="809.9" y="230.2" font-size="16">第二产业同比</text>
</g>
<rect x="987.3" y="199.8" width="25.3" height="6" fill="#4472c4"/>
<g fill="#595959">
<text x="1016.9" y="208.4" font-size="16">第三产业绝对值</text>
</g>
<line x1="988.3" y1="224.2" x2="1011.6" y2="224.2" stroke="#4470bf" stroke-width="3" stroke-linecap="round"/>
<circle cx="1000.2" cy="224.2" r="3.3" fill="#4470bf"/>
<g fill="#595959">
<text x="1016.9" y="230.2" font-size="16">第三产业同比</text>
</g>
<line x1="508" y1="576.5" x2="1159" y2="576.5" stroke="#d9d9d9" stroke-width="1"/>
<g fill="#595959">
<text font-family="Liberation Sans" font-weight="normal" font-size="16"><tspan x="480" y="582.15" textLength="8" lengthAdjust="spacingAndGlyphs">0</tspan></text>
</g>
<line x1="508" y1="526.82" x2="1159" y2="526.82" stroke="#d9d9d9" stroke-width="1"/>
<g fill="#595959">
<text font-family="Liberation Sans" font-weight="normal" font-size="16"><tspan x="472" y="532.47" textLength="16" lengthAdjust="spacingAndGlyphs">10</tspan></text>
</g>
<line x1="508" y1="477.14" x2="1159" y2="477.14" stroke="#d9d9d9" stroke-width="1"/>
<g fill="#595959">
<text font-family="Liberation Sans" font-weight="normal" font-size="16"><tspan x="472" y="482.79" textLength="16" lengthAdjust="spacingAndGlyphs">20</tspan></text>
</g>
<line x1="508" y1="427.46" x2="1159" y2="427.46" stroke="#d9d9d9" stroke-width="1"/>
<g fill="#595959">
<text font-family="Liberation Sans" font-weight="normal" font-size="16"><tspan x="472" y="433.11" textLength="16" lengthAdjust="spacingAndGlyphs">30</tspan></text>
</g>
<line x1="508" y1="377.78" x2="1159" y2="377.78" stroke="#d9d9d9" stroke-width="1"/>
<g fill="#595959">
<text font-family="Liberation Sans" font-weight="normal" font-size="16"><tspan x="472" y="383.43" textLength="16" lengthAdjust="spacingAndGlyphs">40</tspan></text>
</g>
<line x1="508" y1="328.1" x2="1159" y2="328.1" stroke="#d9d9d9" stroke-width="1"/>
<g fill="#595959">
<text font-family="Liberation Sans" font-weight="normal" font-size="16"><tspan x="472" y="333.75" textLength="16" lengthAdjust="spacingAndGlyphs">50</tspan></text>
</g>
<line x1="508" y1="278.42" x2="1159" y2="278.42" stroke="#d9d9d9" stroke-width="1"/>
<g fill="#595959">
<text font-family="Liberation Sans" font-weight="normal" font-size="16"><tspan x="472" y="284.07" textLength="16" lengthAdjust="spacingAndGlyphs">60</tspan></text>
</g>
<g fill="#595959">
<text font-family="Liberation Sans" font-weight="normal" font-size="16"><tspan x="1170.6" y="284.05" textLength="8" lengthAdjust="spacingAndGlyphs">8</tspan><tspan x="1178.6" y="284.05" textLength="8" lengthAdjust="spacingAndGlyphs">%</tspan></text>
</g>
<g fill="#595959">
<text font-family="Liberation Sans" font-weight="normal" font-size="16"><tspan x="1170.6" y="313.86" textLength="8" lengthAdjust="spacingAndGlyphs">6</tspan><tspan x="1178.6" y="313.86" textLength="8" lengthAdjust="spacingAndGlyphs">%</tspan></text>
</g>
<g fill="#595959">
<text font-family="Liberation Sans" font-weight="normal" font-size="16"><tspan x="1170.6" y="343.67" textLength="8" lengthAdjust="spacingAndGlyphs">4</tspan><tspan x="1178.6" y="343.67" textLength="8" lengthAdjust="spacingAndGlyphs">%</tspan></text>
</g>
<g fill="#595959">
<text font-family="Liberation Sans" font-weight="normal" font-size="16"><tspan x="1170.6" y="373.48" textLength="8" lengthAdjust="spacingAndGlyphs">2</tspan><tspan x="1178.6" y="373.48" textLength="8" lengthAdjust="spacingAndGlyphs">%</tspan></text>
</g>
<g fill="#595959">
<text font-family="Liberation Sans" font-weight="normal" font-size="16"><tspan x="1170.6" y="403.29" textLength="8" lengthAdjust="spacingAndGlyphs">0</tspan><tspan x="1178.6" y="403.29" textLength="8" lengthAdjust="spacingAndGlyphs">%</tspan></text>
</g>
<g fill="#595959">
<text font-family="Liberation Sans" font-weight="normal" font-size="16"><tspan x="1170.6" y="433.1" textLength="8" lengthAdjust="spacingAndGlyphs">-</tspan><tspan x="1178.6" y="433.1" textLength="8" lengthAdjust="spacingAndGlyphs">2</tspan><tspan x="1186.6" y="433.1" textLength="8" lengthAdjust="spacingAndGlyphs">%</tspan></text>
</g>
<g fill="#595959">
<text font-family="Liberation Sans" font-weight="normal" font-size="16"><tspan x="1170.6" y="462.91" textLength="8" lengthAdjust="spacingAndGlyphs">-</tspan><tspan x="1178.6" y="462.91" textLength="8" lengthAdjust="spacingAndGlyphs">4</tspan><tspan x="1186.6" y="462.91" textLength="8" lengthAdjust="spacingAndGlyphs">%</tspan></text>
</g>
<g fill="#595959">
<text font-family="Liberation Sans" font-weight="normal" font-size="16"><tspan x="1170.6" y="492.72" textLength="8" lengthAdjust="spacingAndGlyphs">-</tspan><tspan x="1178.6" y="492.72" textLength="8" lengthAdjust="spacingAndGlyphs">6</tspan><tspan x="1186.6" y="492.72" textLength="8" lengthAdjust="spacingAndGlyphs">%</tspan></text>
</g>
<g fill="#595959">
<text font-family="Liberation Sans" font-weight="normal" font-size="16"><tspan x="1170.6" y="522.53" textLength="8" lengthAdjust="spacingAndGlyphs">-</tspan><tspan x="1178.6" y="522.53" textLength="8" lengthAdjust="spacingAndGlyphs">8</tspan><tspan x="1186.6" y="522.53" textLength="8" lengthAdjust="spacingAndGlyphs">%</tspan></text>
</g>
<g fill="#595959">
<text font-family="Liberation Sans" font-weight="normal" font-size="16"><tspan x="1170.6" y="552.34" textLength="8" lengthAdjust="spacingAndGlyphs">-</tspan><tspan x="1178.6" y="552.34" textLength="16" lengthAdjust="spacingAndGlyphs">10</tspan><tspan x="1194.6" y="552.34" textLength="8" lengthAdjust="spacingAndGlyphs">%</tspan></text>
</g>
<g fill="#595959">
<text font-family="Liberation Sans" font-weight="normal" font-size="16"><tspan x="1170.6" y="582.15" textLength="8" lengthAdjust="spacingAndGlyphs">-</tspan><tspan x="1178.6" y="582.15" textLength="16" lengthAdjust="spacingAndGlyphs">12</tspan><tspan x="1194.6" y="582.15" textLength="8" lengthAdjust="spacingAndGlyphs">%</tspan></text>
</g>
<rect x="525.21" y="572.13" width="15.65" height="4.37" fill="#a5a5a5"/>
<rect x="540.86" y="535.76" width="15.65" height="40.74" fill="#ffc000"/>
<rect x="556.51" y="512.91" width="15.65" height="63.59" fill="#4472c4"/>
<rect x="606.59" y="564.97" width="15.65" height="11.53" fill="#a5a5a5"/>
<rect x="622.24" y="487.57" width="15.65" height="88.93" fill="#ffc000"/>
<rect x="637.89" y="447.83" width="15.65" height="128.67" fill="#4472c4"/>
<rect x="687.96" y="554.99" width="15.65" height="21.51" fill="#a5a5a5"/>
<rect x="703.61" y="438.89" width="15.65" height="137.61" fill="#ffc000"/>
<rect x="719.26" y="381.26" width="15.65" height="195.24" fill="#4472c4"/>
<rect x="769.34" y="541.72" width="15.65" height="34.78" fill="#a5a5a5"/>
<rect x="784.99" y="384.24" width="15.65" height="192.26" fill="#ffc000"/>
<rect x="800.64" y="311.21" width="15.65" height="265.29" fill="#4472c4"/>
<rect x="850.71" y="571.53" width="15.65" height="4.97" fill="#a5a5a5"/>
<rect x="866.36" y="539.99" width="15.65" height="36.51" fill="#ffc000"/>
<rect x="882.01" y="515.89" width="15.65" height="60.61" fill="#4472c4"/>
<rect x="932.09" y="563.98" width="15.65" height="12.52" fill="#a5a5a5"/>
<rect x="947.74" y="491.05" width="15.65" height="85.45" fill="#ffc000"/>
<rect x="963.39" y="448.33" width="15.65" height="128.17" fill="#4472c4"/>
<rect x="1013.46" y="552.65" width="15.65" height="23.85" fill="#a5a5a5"/>
<rect x="1029.11" y="439.88" width="15.65" height="136.62" fill="#ffc000"/>
<rect x="1044.76" y="377.28" width="15.65" height="199.22" fill="#4472c4"/>
<rect x="1094.84" y="538.25" width="15.65" height="38.25" fill="#a5a5a5"/>
<rect x="1110.49" y="385.73" width="15.65" height="190.77" fill="#ffc000"/>
<rect x="1126.14" y="301.27" width="15.65" height="275.23" fill="#4472c4"/>
<g transform="translate(552.09,599.6) rotate(-45)"><g fill="#4d4d4d">
<text font-size="15.8"><tspan x="-55.3" y="0">年</tspan><tspan x="-31.6" y="0">季度</tspan></text>
<text font-family="Liberation Sans" font-weight="normal" font-size="15.8"><tspan x="-71.1" y="0" textLength="15.8" lengthAdjust="spacingAndGlyphs">19</tspan></text>
<text font-family="Liberation Sans" font-weight="normal" font-size="15.8"><tspan x="-39.5" y="0" textLength="7.9" lengthAdjust="spacingAndGlyphs">1</tspan></text>
</g></g>
<g transform="translate(633.46,599.6) rotate(-45)"><g fill="#4d4d4d">
<text font-size="15.8"><tspan x="-71.1" y="0">年</tspan><tspan x="-31.6" y="0">季度</tspan></text>
<text font-family="Liberation Sans" font-weight="normal" font-size="15.8"><tspan x="-86.9" y="0" textLength="15.8" lengthAdjust="spacingAndGlyphs">19</tspan></text>
<text font-family="Liberation Sans" font-weight="normal" font-size="15.8"><tspan x="-55.3" y="0" textLength="7.9" lengthAdjust="spacingAndGlyphs">1</tspan><tspan x="-47.4" y="0" textLength="7.9" lengthAdjust="spacingAndGlyphs">-</tspan><tspan x="-39.5" y="0" textLength="7.9" lengthAdjust="spacingAndGlyphs">2</tspan></text>
</g></g>
<g transform="translate(714.84,599.6) rotate(-45)"><g fill="#4d4d4d">
<text font-size="15.8"><tspan x="-71.1" y="0">年</tspan><tspan x="-31.6" y="0">季度</tspan></text>
<text font-family="Liberation Sans" font-weight="normal" font-size="15.8"><tspan x="-86.9" y="0" textLength="15.8" lengthAdjust="spacingAndGlyphs">19</tspan></text>
<text font-family="Liberation Sans" font-weight="normal" font-size="15.8"><tspan x="-55.3" y="0" textLength="7.9" lengthAdjust="spacingAndGlyphs">1</tspan><tspan x="-47.4" y="0" textLength="7.9" lengthAdjust="spacingAndGlyphs">-</tspan><tspan x="-39.5" y="0" textLength="7.9" lengthAdjust="spacingAndGlyphs">3</tspan></text>
</g></g>
<g transform="translate(796.21,599.6) rotate(-45)"><g fill="#4d4d4d">
<text font-size="15.8"><tspan x="-71.1" y="0">年</tspan><tspan x="-31.6" y="0">季度</tspan></text>
<text font-family="Liberation Sans" font-weight="normal" font-size="15.8"><tspan x="-86.9" y="0" textLength="15.8" lengthAdjust="spacingAndGlyphs">19</tspan></text>
<text font-family="Liberation Sans" font-weight="normal" font-size="15.8"><tspan x="-55.3" y="0" textLength="7.9" lengthAdjust="spacingAndGlyphs">1</tspan><tspan x="-47.4" y="0" textLength="7.9" lengthAdjust="spacingAndGlyphs">-</tspan><tspan x="-39.5" y="0" textLength="7.9" lengthAdjust="spacingAndGlyphs">4</tspan></text>
</g></g>
<g transform="translate(877.59,599.6) rotate(-45)"><g fill="#4d4d4d">
<text font-size="15.8"><tspan x="-55.3" y="0">年</tspan><tspan x="-31.6" y="0">季度</tspan></text>
<text font-family="Liberation Sans" font-weight="normal" font-size="15.8"><tspan x="-71.1" y="0" textLength="15.8" lengthAdjust="spacingAndGlyphs">20</tspan></text>
<text font-family="Liberation Sans" font-weight="normal" font-size="15.8"><tspan x="-39.5" y="0" textLength="7.9" lengthAdjust="spacingAndGlyphs">1</tspan></text>
</g></g>
<g transform="translate(958.96,599.6) rotate(-45)"><g fill="#4d4d4d">
<text font-size="15.8"><tspan x="-71.1" y="0">年</tspan><tspan x="-31.6" y="0">季度</tspan></text>
<text font-family="Liberation Sans" font-weight="normal" font-size="15.8"><tspan x="-86.9" y="0" textLength="15.8" lengthAdjust="spacingAndGlyphs">20</tspan></text>
<text font-family="Liberation Sans" font-weight="normal" font-size="15.8"><tspan x="-55.3" y="0" textLength="7.9" lengthAdjust="spacingAndGlyphs">1</tspan><tspan x="-47.4" y="0" textLength="7.9" lengthAdjust="spacingAndGlyphs">-</tspan><tspan x="-39.5" y="0" textLength="7.9" lengthAdjust="spacingAndGlyphs">2</tspan></text>
</g></g>
<g transform="translate(1040.34,599.6) rotate(-45)"><g fill="#4d4d4d">
<text font-size="15.8"><tspan x="-71.1" y="0">年</tspan><tspan x="-31.6" y="0">季度</tspan></text>
<text font-family="Liberation Sans" font-weight="normal" font-size="15.8"><tspan x="-86.9" y="0" textLength="15.8" lengthAdjust="spacingAndGlyphs">20</tspan></text>
<text font-family="Liberation Sans" font-weight="normal" font-size="15.8"><tspan x="-55.3" y="0" textLength="7.9" lengthAdjust="spacingAndGlyphs">1</tspan><tspan x="-47.4" y="0" textLength="7.9" lengthAdjust="spacingAndGlyphs">-</tspan><tspan x="-39.5" y="0" textLength="7.9" lengthAdjust="spacingAndGlyphs">3</tspan></text>
</g></g>
<g transform="translate(1121.71,599.6) rotate(-45)"><g fill="#4d4d4d">
<text font-size="15.8"><tspan x="-71.1" y="0">年</tspan><tspan x="-31.6" y="0">季度</tspan></text>
<text font-family="Liberation Sans" font-weight="normal" font-size="15.8"><tspan x="-86.9" y="0" textLength="15.8" lengthAdjust="spacingAndGlyphs">20</tspan></text>
<text font-family="Liberation Sans" font-weight="normal" font-size="15.8"><tspan x="-55.3" y="0" textLength="7.9" lengthAdjust="spacingAndGlyphs">1</tspan><tspan x="-47.4" y="0" textLength="7.9" lengthAdjust="spacingAndGlyphs">-</tspan><tspan x="-39.5" y="0" textLength="7.9" lengthAdjust="spacingAndGlyphs">4</tspan></text>
</g></g>
<polyline points="548.69,357.4 630.06,352.92 711.44,354.42 792.81,351.43 874.19,445.34 955.56,384.23 1036.94,363.36 1118.31,352.92" fill="none" stroke="#a5a5a5" stroke-width="3" stroke-linejoin="round" stroke-linecap="round"/>
<circle cx="548.69" cy="357.4" r="3.3" fill="#a5a5a5"/>
<circle cx="630.06" cy="352.92" r="3.3" fill="#a5a5a5"/>
<circle cx="711.44" cy="354.42" r="3.3" fill="#a5a5a5"/>
<circle cx="792.81" cy="351.43" r="3.3" fill="#a5a5a5"/>
<circle cx="874.19" cy="445.34" r="3.3" fill="#a5a5a5"/>
<circle cx="955.56" cy="384.23" r="3.3" fill="#a5a5a5"/>
<circle cx="1036.94" cy="363.36" r="3.3" fill="#a5a5a5"/>
<circle cx="1118.31" cy="352.92" r="3.3" fill="#a5a5a5"/>
<polyline points="548.69,306.72 630.06,311.19 711.44,314.17 792.81,312.68 874.19,540.73 955.56,425.96 1036.94,384.23 1118.31,358.89" fill="none" stroke="#ecbb22" stroke-width="3" stroke-linejoin="round" stroke-linecap="round"/>
<circle cx="548.69" cy="306.72" r="3.3" fill="#ecbb22"/>
<circle cx="630.06" cy="311.19" r="3.3" fill="#ecbb22"/>
<circle cx="711.44" cy="314.17" r="3.3" fill="#ecbb22"/>
<circle cx="792.81" cy="312.68" r="3.3" fill="#ecbb22"/>
<circle cx="874.19" cy="540.73" r="3.3" fill="#ecbb22"/>
<circle cx="955.56" cy="425.96" r="3.3" fill="#ecbb22"/>
<circle cx="1036.94" cy="384.23" r="3.3" fill="#ecbb22"/>
<circle cx="1118.31" cy="358.89" r="3.3" fill="#ecbb22"/>
<polyline points="548.69,293.3 630.06,293.3 711.44,293.3 792.81,294.8 874.19,475.15 955.56,421.49 1036.94,391.68 1118.31,366.34" fill="none" stroke="#4470bf" stroke-width="3" stroke-linejoin="round" stroke-linecap="round"/>
<circle cx="548.69" cy="293.3" r="3.3" fill="#4470bf"/>
<circle cx="630.06" cy="293.3" r="3.3" fill="#4470bf"/>
<circle cx="711.44" cy="293.3" r="3.3" fill="#4470bf"/>
<circle cx="792.81" cy="294.8" r="3.3" fill="#4470bf"/>
<circle cx="874.19" cy="475.15" r="3.3" fill="#4470bf"/>
<circle cx="955.56" cy="421.49" r="3.3" fill="#4470bf"/>
<circle cx="1036.94" cy="391.68" r="3.3" fill="#4470bf"/>
<circle cx="1118.31" cy="366.34" r="3.3" fill="#4470bf"/>
<polyline points="792.81,312.68 801.5,308.3 810,308.3" fill="none" stroke="#a6a6a6" stroke-width="1"/>
<polyline points="874.19,540.73 880,524.5" fill="none" stroke="#a6a6a6" stroke-width="1"/>
<polyline points="955.56,425.96 960.9,437.2 966.2,437.2" fill="none" stroke="#a6a6a6" stroke-width="1"/>
<polyline points="1036.94,391.68 1039,404.6" fill="none" stroke="#a6a6a6" stroke-width="1"/>
<polyline points="1118.31,366.34 1126,380.7" fill="none" stroke="#a6a6a6" stroke-width="1"/>
<rect x="528.69" y="325.3" width="40" height="24.4" fill="#e6e6e6" fill-opacity=".97"/><g fill="#454545">
<text font-family="Liberation Sans" font-weight="normal" font-size="16"><tspan x="532.69" y="343.2" textLength="8" lengthAdjust="spacingAndGlyphs">2</tspan><tspan x="540.85" y="343.2">.</tspan><tspan x="548.69" y="343.2" textLength="8" lengthAdjust="spacingAndGlyphs">7</tspan><tspan x="556.69" y="343.2" textLength="8" lengthAdjust="spacingAndGlyphs">%</tspan></text>
</g>
<rect x="610.06" y="320.8" width="40" height="24.4" fill="#e6e6e6" fill-opacity=".97"/><g fill="#454545">
<text font-family="Liberation Sans" font-weight="normal" font-size="16"><tspan x="614.06" y="338.7" textLength="8" lengthAdjust="spacingAndGlyphs">3</tspan><tspan x="622.22" y="338.7">.</tspan><tspan x="630.06" y="338.7" textLength="8" lengthAdjust="spacingAndGlyphs">0</tspan><tspan x="638.06" y="338.7" textLength="8" lengthAdjust="spacingAndGlyphs">%</tspan></text>
</g>
<rect x="691.44" y="322.3" width="40" height="24.4" fill="#e6e6e6" fill-opacity=".97"/><g fill="#454545">
<text font-family="Liberation Sans" font-weight="normal" font-size="16"><tspan x="695.44" y="340.2" textLength="8" lengthAdjust="spacingAndGlyphs">2</tspan><tspan x="703.6" y="340.2">.</tspan><tspan x="711.44" y="340.2" textLength="8" lengthAdjust="spacingAndGlyphs">9</tspan><tspan x="719.44" y="340.2" textLength="8" lengthAdjust="spacingAndGlyphs">%</tspan></text>
</g>
<rect x="773" y="319.1" width="40" height="24.4" fill="#e6e6e6" fill-opacity=".97"/><g fill="#454545">
<text font-family="Liberation Sans" font-weight="normal" font-size="16"><tspan x="777" y="337" textLength="8" lengthAdjust="spacingAndGlyphs">3</tspan><tspan x="785.16" y="337">.</tspan><tspan x="793" y="337" textLength="8" lengthAdjust="spacingAndGlyphs">1</tspan><tspan x="801" y="337" textLength="8" lengthAdjust="spacingAndGlyphs">%</tspan></text>
</g>
<rect x="850.2" y="413.6" width="48" height="24.4" fill="#e6e6e6" fill-opacity=".97"/><g fill="#454545">
<text font-family="Liberation Sans" font-weight="normal" font-size="16"><tspan x="854.2" y="431.5" textLength="8" lengthAdjust="spacingAndGlyphs">-</tspan><tspan x="862.2" y="431.5" textLength="8" lengthAdjust="spacingAndGlyphs">3</tspan><tspan x="870.36" y="431.5">.</tspan><tspan x="878.2" y="431.5" textLength="8" lengthAdjust="spacingAndGlyphs">2</tspan><tspan x="886.2" y="431.5" textLength="8" lengthAdjust="spacingAndGlyphs">%</tspan></text>
</g>
<rect x="936" y="352.1" width="40" height="24.4" fill="#e6e6e6" fill-opacity=".97"/><g fill="#454545">
<text font-family="Liberation Sans" font-weight="normal" font-size="16"><tspan x="940" y="370" textLength="8" lengthAdjust="spacingAndGlyphs">0</tspan><tspan x="948.16" y="370">.</tspan><tspan x="956" y="370" textLength="8" lengthAdjust="spacingAndGlyphs">9</tspan><tspan x="964" y="370" textLength="8" lengthAdjust="spacingAndGlyphs">%</tspan></text>
</g>
<rect x="1017.2" y="331.4" width="40" height="24.4" fill="#e6e6e6" fill-opacity=".97"/><g fill="#454545">
<text font-family="Liberation Sans" font-weight="normal" font-size="16"><tspan x="1021.2" y="349.3" textLength="8" lengthAdjust="spacingAndGlyphs">2</tspan><tspan x="1029.36" y="349.3">.</tspan><tspan x="1037.2" y="349.3" textLength="8" lengthAdjust="spacingAndGlyphs">3</tspan><tspan x="1045.2" y="349.3" textLength="8" lengthAdjust="spacingAndGlyphs">%</tspan></text>
</g>
<rect x="1098.2" y="320.6" width="40" height="24.4" fill="#e6e6e6" fill-opacity=".97"/><g fill="#454545">
<text font-family="Liberation Sans" font-weight="normal" font-size="16"><tspan x="1102.2" y="338.5" textLength="8" lengthAdjust="spacingAndGlyphs">3</tspan><tspan x="1110.36" y="338.5">.</tspan><tspan x="1118.2" y="338.5" textLength="8" lengthAdjust="spacingAndGlyphs">0</tspan><tspan x="1126.2" y="338.5" textLength="8" lengthAdjust="spacingAndGlyphs">%</tspan></text>
</g>
<rect x="556" y="295.1" width="40" height="24.4" fill="#fef1cf" fill-opacity=".97"/><g fill="#454545">
<text font-family="Liberation Sans" font-weight="normal" font-size="16"><tspan x="560" y="313" textLength="8" lengthAdjust="spacingAndGlyphs">6</tspan><tspan x="568.16" y="313">.</tspan><tspan x="576" y="313" textLength="8" lengthAdjust="spacingAndGlyphs">1</tspan><tspan x="584" y="313" textLength="8" lengthAdjust="spacingAndGlyphs">%</tspan></text>
</g>
<rect x="636.5" y="301.1" width="40" height="24.4" fill="#fef1cf" fill-opacity=".97"/><g fill="#454545">
<text font-family="Liberation Sans" font-weight="normal" font-size="16"><tspan x="640.5" y="319" textLength="8" lengthAdjust="spacingAndGlyphs">5</tspan><tspan x="648.66" y="319">.</tspan><tspan x="656.5" y="319" textLength="8" lengthAdjust="spacingAndGlyphs">8</tspan><tspan x="664.5" y="319" textLength="8" lengthAdjust="spacingAndGlyphs">%</tspan></text>
</g>
<rect x="719" y="303" width="40" height="24.4" fill="#fef1cf" fill-opacity=".97"/><g fill="#454545">
<text font-family="Liberation Sans" font-weight="normal" font-size="16"><tspan x="723" y="320.9" textLength="8" lengthAdjust="spacingAndGlyphs">5</tspan><tspan x="731.16" y="320.9">.</tspan><tspan x="739" y="320.9" textLength="8" lengthAdjust="spacingAndGlyphs">6</tspan><tspan x="747" y="320.9" textLength="8" lengthAdjust="spacingAndGlyphs">%</tspan></text>
</g>
<rect x="810.1" y="296.1" width="40" height="24.4" fill="#fef1cf" fill-opacity=".97"/><g fill="#454545">
<text font-family="Liberation Sans" font-weight="normal" font-size="16"><tspan x="814.1" y="314" textLength="8" lengthAdjust="spacingAndGlyphs">5</tspan><tspan x="822.26" y="314">.</tspan><tspan x="830.1" y="314" textLength="8" lengthAdjust="spacingAndGlyphs">7</tspan><tspan x="838.1" y="314" textLength="8" lengthAdjust="spacingAndGlyphs">%</tspan></text>
</g>
<rect x="855.1" y="500.4" width="48" height="24.4" fill="#fef1cf" fill-opacity=".97"/><g fill="#454545">
<text font-family="Liberation Sans" font-weight="normal" font-size="16"><tspan x="859.1" y="518.3" textLength="8" lengthAdjust="spacingAndGlyphs">-</tspan><tspan x="867.1" y="518.3" textLength="8" lengthAdjust="spacingAndGlyphs">9</tspan><tspan x="875.26" y="518.3">.</tspan><tspan x="883.1" y="518.3" textLength="8" lengthAdjust="spacingAndGlyphs">6</tspan><tspan x="891.1" y="518.3" textLength="8" lengthAdjust="spacingAndGlyphs">%</tspan></text>
</g>
<rect x="966.2" y="425.5" width="48" height="24.4" fill="#fef1cf" fill-opacity=".97"/><g fill="#454545">
<text font-family="Liberation Sans" font-weight="normal" font-size="16"><tspan x="970.2" y="443.4" textLength="8" lengthAdjust="spacingAndGlyphs">-</tspan><tspan x="978.2" y="443.4" textLength="8" lengthAdjust="spacingAndGlyphs">1</tspan><tspan x="986.36" y="443.4">.</tspan><tspan x="994.2" y="443.4" textLength="8" lengthAdjust="spacingAndGlyphs">9</tspan><tspan x="1002.2" y="443.4" textLength="8" lengthAdjust="spacingAndGlyphs">%</tspan></text>
</g>
<rect x="1001.6" y="366.6" width="40" height="24.4" fill="#fef1cf" fill-opacity=".97"/><g fill="#454545">
<text font-family="Liberation Sans" font-weight="normal" font-size="16"><tspan x="1005.6" y="384.5" textLength="8" lengthAdjust="spacingAndGlyphs">0</tspan><tspan x="1013.76" y="384.5">.</tspan><tspan x="1021.6" y="384.5" textLength="8" lengthAdjust="spacingAndGlyphs">9</tspan><tspan x="1029.6" y="384.5" textLength="8" lengthAdjust="spacingAndGlyphs">%</tspan></text>
</g>
<rect x="1124.7" y="346.3" width="40" height="24.4" fill="#fef1cf" fill-opacity=".97"/><g fill="#454545">
<text font-family="Liberation Sans" font-weight="normal" font-size="16"><tspan x="1128.7" y="364.2" textLength="8" lengthAdjust="spacingAndGlyphs">2</tspan><tspan x="1136.86" y="364.2">.</tspan><tspan x="1144.7" y="364.2" textLength="8" lengthAdjust="spacingAndGlyphs">6</tspan><tspan x="1152.7" y="364.2" textLength="8" lengthAdjust="spacingAndGlyphs">%</tspan></text>
</g>
<rect x="528.69" y="261.2" width="40" height="24.4" fill="#dde8f3" fill-opacity=".97"/><g fill="#454545">
<text font-family="Liberation Sans" font-weight="normal" font-size="16"><tspan x="532.69" y="279.1" textLength="8" lengthAdjust="spacingAndGlyphs">7</tspan><tspan x="540.85" y="279.1">.</tspan><tspan x="548.69" y="279.1" textLength="8" lengthAdjust="spacingAndGlyphs">0</tspan><tspan x="556.69" y="279.1" textLength="8" lengthAdjust="spacingAndGlyphs">%</tspan></text>
</g>
<rect x="610.06" y="261.2" width="40" height="24.4" fill="#dde8f3" fill-opacity=".97"/><g fill="#454545">
<text font-family="Liberation Sans" font-weight="normal" font-size="16"><tspan x="614.06" y="279.1" textLength="8" lengthAdjust="spacingAndGlyphs">7</tspan><tspan x="622.22" y="279.1">.</tspan><tspan x="630.06" y="279.1" textLength="8" lengthAdjust="spacingAndGlyphs">0</tspan><tspan x="638.06" y="279.1" textLength="8" lengthAdjust="spacingAndGlyphs">%</tspan></text>
</g>
<rect x="691.44" y="261.2" width="40" height="24.4" fill="#dde8f3" fill-opacity=".97"/><g fill="#454545">
<text font-family="Liberation Sans" font-weight="normal" font-size="16"><tspan x="695.44" y="279.1" textLength="8" lengthAdjust="spacingAndGlyphs">7</tspan><tspan x="703.6" y="279.1">.</tspan><tspan x="711.44" y="279.1" textLength="8" lengthAdjust="spacingAndGlyphs">0</tspan><tspan x="719.44" y="279.1" textLength="8" lengthAdjust="spacingAndGlyphs">%</tspan></text>
</g>
<rect x="773" y="262.1" width="40" height="24.4" fill="#dde8f3" fill-opacity=".97"/><g fill="#454545">
<text font-family="Liberation Sans" font-weight="normal" font-size="16"><tspan x="777" y="280" textLength="8" lengthAdjust="spacingAndGlyphs">6</tspan><tspan x="785.16" y="280">.</tspan><tspan x="793" y="280" textLength="8" lengthAdjust="spacingAndGlyphs">9</tspan><tspan x="801" y="280" textLength="8" lengthAdjust="spacingAndGlyphs">%</tspan></text>
</g>
<rect x="850.2" y="443" width="48" height="24.4" fill="#dde8f3" fill-opacity=".97"/><g fill="#454545">
<text font-family="Liberation Sans" font-weight="normal" font-size="16"><tspan x="854.2" y="460.9" textLength="8" lengthAdjust="spacingAndGlyphs">-</tspan><tspan x="862.2" y="460.9" textLength="8" lengthAdjust="spacingAndGlyphs">5</tspan><tspan x="870.36" y="460.9">.</tspan><tspan x="878.2" y="460.9" textLength="8" lengthAdjust="spacingAndGlyphs">2</tspan><tspan x="886.2" y="460.9" textLength="8" lengthAdjust="spacingAndGlyphs">%</tspan></text>
</g>
<rect x="931.7" y="389.3" width="48" height="24.4" fill="#dde8f3" fill-opacity=".97"/><g fill="#454545">
<text font-family="Liberation Sans" font-weight="normal" font-size="16"><tspan x="935.7" y="407.2" textLength="8" lengthAdjust="spacingAndGlyphs">-</tspan><tspan x="943.7" y="407.2" textLength="8" lengthAdjust="spacingAndGlyphs">1</tspan><tspan x="951.86" y="407.2">.</tspan><tspan x="959.7" y="407.2" textLength="8" lengthAdjust="spacingAndGlyphs">6</tspan><tspan x="967.7" y="407.2" textLength="8" lengthAdjust="spacingAndGlyphs">%</tspan></text>
</g>
<rect x="1020" y="404.6" width="40" height="24.4" fill="#dde8f3" fill-opacity=".97"/><g fill="#454545">
<text font-family="Liberation Sans" font-weight="normal" font-size="16"><tspan x="1024" y="422.5" textLength="8" lengthAdjust="spacingAndGlyphs">0</tspan><tspan x="1032.16" y="422.5">.</tspan><tspan x="1040" y="422.5" textLength="8" lengthAdjust="spacingAndGlyphs">4</tspan><tspan x="1048" y="422.5" textLength="8" lengthAdjust="spacingAndGlyphs">%</tspan></text>
</g>
<rect x="1110.2" y="380.8" width="40" height="24.4" fill="#dde8f3" fill-opacity=".97"/><g fill="#454545">
<text font-family="Liberation Sans" font-weight="normal" font-size="16"><tspan x="1114.2" y="398.7" textLength="8" lengthAdjust="spacingAndGlyphs">2</tspan><tspan x="1122.36" y="398.7">.</tspan><tspan x="1130.2" y="398.7" textLength="8" lengthAdjust="spacingAndGlyphs">1</tspan><tspan x="1138.2" y="398.7" textLength="8" lengthAdjust="spacingAndGlyphs">%</tspan></text>
</g>
</g>
<g fill="#111">
<text x="1022.5" y="687" font-size="13.9" textLength="166.8">数据来源：国家统计局公布</text>
</g>
<text x="1233" y="689" text-anchor="middle" font-family="Liberation Sans" font-size="18.5" fill="#8fb36b" textLength="25" lengthAdjust="spacingAndGlyphs">-3-</text>
</svg>
</body>
</html>
